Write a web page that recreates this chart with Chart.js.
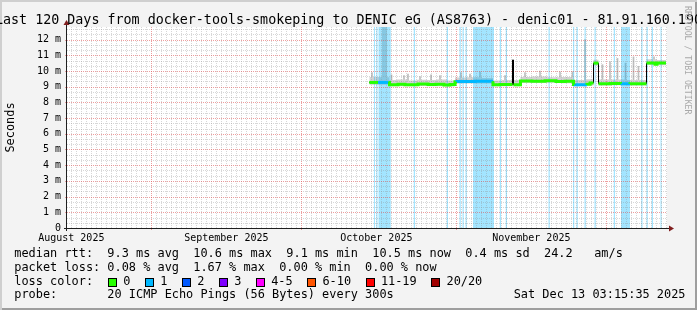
<!DOCTYPE html>
<html>
<head>
<meta charset="utf-8">
<script src="https://cdn.jsdelivr.net/npm/chart.js@4.4.1/dist/chart.umd.min.js"></script>
<style>
  html, body { margin: 0; padding: 0; background: #f3f3f3; overflow: hidden; }
  #frame { position: relative; width: 697px; height: 310px; overflow: hidden; background: #f3f3f3;
           box-shadow: inset 2px 2px 0 #cfcfcf, inset -2px -2px 0 #9e9e9e; }
  canvas { position: absolute; left: 0; top: 0; }
  .txt { position: absolute; white-space: pre; font-family: "DejaVu Sans Mono", monospace; color: #000; line-height: 1; }
  #title { font-size: 13.35px; left: -5px; top: 12.7px; }
  .row { font-size: 11.9px; left: 0; height: 12px; width: 697px; }
  .tok { position: absolute; top: 0; }
  #mark { writing-mode: vertical-rl; font-size: 8.2px; color: #a8a8a8; left: 684px; top: 6px; }
  .box { display: inline-block; width: 7px; height: 7px; border: 1px solid #000; vertical-align: top; margin: 2.7px 6px 0 0; }
  .lbl { margin-right: 14.8px; }
</style>
</head>
<body>
<div id="frame">
  <canvas id="chart" width="697" height="310"></canvas>
  <div id="title" class="txt">Last 120 Days from docker-tools-smokeping to DENIC eG (AS8763) - denic01 - 81.91.160.190</div>
  <div id="mark" class="txt">RRDTOOL / TOBI OETIKER</div>
  <div id="legend"></div>
</div>
<script>
// time axis: days since the graph start (Aug 15 03:15:35), 120 days wide
const monthLabels = ['August 2025', 'September 2025', 'October 2025', 'November 2025'];
const monthLabelDays = [0.864, 31.864, 61.864, 92.864];
const monthStartDays = [16.864, 46.864, 77.864, 107.864];
const firstMidnight = 0.864;
const yTicks = [0, 1, 2, 3, 4, 5, 6, 7, 8, 9, 10, 11, 12];
const yMax = 12.8;

// median rtt (ms); each value holds until the next day entry
const medDays = [60.46, 62.2, 64.3, 64.5, 66.2, 67.6, 70.2, 72.2, 73.8, 75.4, 76.6, 77.6, 78.0, 81.6, 85.2, 86.6,
                 89.1, 89.3, 90.7, 93.0, 95.6, 97.8, 99.6, 101.3, 101.7, 104.0, 104.6, 105.3, 106.3, 108.6, 111.0,
                 112.6, 115.9, 117.6, 118.0, 119.8];
const medMs = [9.27, 9.27, 9.27, 9.13, 9.16, 9.13, 9.17, 9.14, 9.16, 9.11, 9.14, 9.32, 9.33, 9.34, 9.12, 9.14,
               10.7, 9.13, 9.36, 9.34, 9.37, 9.33, 9.35, 9.14, 9.13, 9.15, 9.24, 10.5, 9.19, 9.2, 9.18,
               9.19, 10.5, 10.42, 10.5, 10.5];
// lost pings (of 20) for each stretch; null = no coloured line
const medLoss = [0, 1, 0, 0, 0, 0, 0, 0, 0, 0, 0, 0, 1, 1, 0, 0,
                 null, 0, 0, 0, 0, 0, 0, 0, 1, 0, 0, 0, 0, 0, 1,
                 0, 0, 0, 0, 0];

// smoke band (ms)
const smokeDays = [60.46, 62.6, 63.0, 64.0, 64.5, 66.0, 68.0, 70.0, 72.0, 74.0, 76.0, 77.6, 80.0, 83.0, 85.2,
                   87.0, 89.3, 90.7, 93.0, 96.0, 99.0, 101.3, 104.0, 105.3, 106.3, 109.0, 112.0, 115.9, 118.0, 119.8];
const smokeLo = [9.12, 9.12, 9.12, 9.12, 9.02, 9.03, 9.02, 9.04, 9.03, 9.02, 9.01, 9.2, 9.2, 9.2, 9.02,
                 9.03, 9.03, 9.24, 9.23, 9.25, 9.22, 9.03, 9.08, 10.35, 9.08, 9.09, 9.08, 10.38, 10.36, 10.36];
const smokeHi = [9.62, 9.6, 12.8, 9.6, 9.42, 9.45, 9.4, 9.44, 9.42, 9.45, 9.4, 9.58, 9.6, 9.56, 9.4,
                 9.42, 9.42, 9.62, 9.64, 9.6, 9.62, 9.42, 9.48, 10.72, 9.45, 9.46, 9.43, 10.74, 10.7, 10.7];

// single smoke spikes (ms)
const spikeDays = [61.0, 64.9, 67.4, 68.2, 70.6, 72.8, 74.6, 78.8, 80.6, 82.6, 87.6, 91.6, 94.6, 98.6, 101.1,
                   103.6, 107.1, 108.6, 110.1, 111.7, 113.3, 114.3, 117.4];
const spikeLo = [9.5, 9.35, 9.3, 9.3, 9.3, 9.3, 9.3, 9.5, 9.5, 9.5, 9.3, 9.5, 9.5, 9.5, 9.5,
                 9.3, 9.4, 9.4, 9.4, 9.4, 9.4, 9.4, 10.6];
const spikeHi = [9.9, 9.75, 9.7, 9.8, 9.65, 9.75, 9.7, 9.9, 9.8, 9.95, 9.7, 9.9, 10.0, 9.95, 9.95,
                 12.0, 10.4, 10.6, 10.8, 10.5, 10.9, 10.3, 10.9];

// packet loss stretches (days)
const lossStart = [61.35, 61.85, 62.3, 69.35, 75.95, 78.5, 79.1, 79.7, 81.2, 86.55, 87.75, 96.3, 101.2, 101.9,
                   103.5, 105.5, 109.35, 110.8, 114.85, 115.9, 116.95, 118.7];
const lossEnd = [61.6, 62.1, 64.75, 69.6, 76.2, 78.75, 79.35, 79.95, 85.4, 86.8, 88.0, 96.55, 101.45, 102.15,
                 103.75, 105.75, 109.6, 112.6, 115.1, 116.15, 117.2, 118.95];

const lossColors = ['#26ff00', '#00b8ff', '#0059ff', '#7e00ff', '#ff00ff', '#ff5500', '#ff0000', '#a10000'];
const lossLabels = ['0', '1', '2', '3', '4-5', '6-10', '11-19', '20/20'];

// ---- legend text under the graph
const rows = [
  { top: 248.2, tokens: [[14.3, 'median rtt:  9.3 ms avg  10.6 ms max  9.1 ms min  10.5 ms now  0.4 ms sd  24.2   am/s']] },
  { top: 261.9, tokens: [[14.3, 'packet loss: 0.08 % avg  1.67 % max  0.00 % min  0.00 % now']] },
  { top: 275.6, tokens: [[14.3, 'loss color:']] },
  { top: 288.9, tokens: [[14.3, 'probe:       20 ICMP Echo Pings (56 Bytes) every 300s'],
                         [513.7, 'Sat Dec 13 03:15:35 2025']] }
];
const legend = document.getElementById('legend');
rows.forEach((r, ri) => {
  const row = document.createElement('div');
  row.className = 'txt row';
  row.style.top = r.top + 'px';
  r.tokens.forEach(([x, t]) => {
    const s = document.createElement('span');
    s.className = 'tok';
    s.style.left = x + 'px';
    s.textContent = t;
    row.appendChild(s);
  });
  if (ri === 2) {
    const s = document.createElement('span');
    s.className = 'tok';
    s.style.left = '108.3px';
    lossColors.forEach((c, i) => {
      const b = document.createElement('span');
      b.className = 'box';
      b.style.background = c;
      const l = document.createElement('span');
      l.className = 'lbl';
      l.textContent = lossLabels[i];
      s.appendChild(b);
      s.appendChild(l);
    });
    row.appendChild(s);
  }
  legend.appendChild(row);
});

// ---- chart data built from the arrays
const medPts = medDays.map((d, i) => ({ x: d, y: medMs[i] }));
const coloredPts = [];
for (let k = 0; k < medDays.length - 1; k++) {
  coloredPts.push({ x: medDays[k], y: medMs[k] }, { x: medDays[k + 1], y: medMs[k] });
}
const lossColorOf = n => (n === null ? 'transparent' : lossColors[n]);
function segColor(ctx) {
  const i = ctx.p0DataIndex;
  const k = Math.floor(i / 2);
  if (i % 2 === 0) return lossColorOf(medLoss[k]);
  if (Math.abs(medMs[k + 1] - medMs[k]) > 0.5) return 'transparent';
  return lossColorOf(medLoss[k + 1]);
}
const smokeHiPts = smokeDays.map((d, i) => ({ x: d, y: smokeHi[i] }));
const smokeLoPts = smokeDays.map((d, i) => ({ x: d, y: smokeLo[i] }));
const spikePts = spikeDays.map((d, i) => ({ x: d, y: [spikeLo[i], spikeHi[i]] }));
const lossPts = [];
lossStart.forEach((s, i) => lossPts.push({ x: s, y: yMax }, { x: lossEnd[i], y: 0 }));

const tickFont = { family: 'DejaVu Sans Mono', size: 10 };
const titleFont = { family: 'DejaVu Sans Mono', size: 11.9 };

// rrdtool look: white canvas, dotted grid, axes with arrows
const rrdFrame = {
  id: 'rrdFrame',
  beforeDraw(chart) {
    const { ctx, chartArea: a } = chart;
    ctx.save();
    ctx.fillStyle = '#ffffff';
    ctx.fillRect(a.left, a.top, a.right - a.left, a.bottom - a.top);
    ctx.restore();
  },
  afterDatasetDraw(chart, args) {
    if (chart.data.datasets[args.index].label !== 'loss') return;
    const { ctx, chartArea: a, scales: { x, y } } = chart;
    ctx.save();
    ctx.lineWidth = 1;
    ctx.setLineDash([1, 1]);
    ctx.strokeStyle = 'rgba(143,143,143,0.36)';
    ctx.beginPath();
    for (let d = firstMidnight; d < 120; d += 1) {
      if (monthStartDays.some(m => Math.abs(m - d) < 0.01)) continue;
      const px = Math.round(x.getPixelForValue(d)) + 0.5;
      ctx.moveTo(px, a.top); ctx.lineTo(px, a.bottom);
    }
    for (let k = 1; k / 3 < yMax; k++) {
      if (k % 3 === 0) continue;
      const py = Math.round(y.getPixelForValue(k / 3)) + 0.5;
      ctx.moveTo(a.left, py); ctx.lineTo(a.right, py);
    }
    ctx.stroke();
    ctx.strokeStyle = 'rgba(222,80,80,0.55)';
    ctx.beginPath();
    monthStartDays.forEach(d => {
      const px = Math.round(x.getPixelForValue(d)) + 0.5;
      ctx.moveTo(px, a.top); ctx.lineTo(px, a.bottom + 3);
    });
    yTicks.slice(1).forEach(v => {
      const py = Math.round(y.getPixelForValue(v)) + 0.5;
      ctx.moveTo(a.left - 2, py); ctx.lineTo(a.right, py);
    });
    ctx.stroke();
    ctx.restore();
  },
  afterDraw(chart) {
    const { ctx, chartArea: a } = chart;
    const ax = a.left - 0.5, ay = a.bottom + 0.5;
    ctx.save();
    ctx.strokeStyle = '#1f1f1f';
    ctx.lineWidth = 1;
    ctx.beginPath();
    ctx.moveTo(a.left - 3, ay); ctx.lineTo(a.right + 3, ay);
    ctx.moveTo(ax, a.bottom + 3); ctx.lineTo(ax, a.top - 3);
    ctx.stroke();
    ctx.fillStyle = '#801f1f';
    ctx.beginPath();
    ctx.moveTo(a.right + 7, ay); ctx.lineTo(a.right + 2, ay - 3); ctx.lineTo(a.right + 2, ay + 3);
    ctx.closePath(); ctx.fill();
    ctx.beginPath();
    ctx.moveTo(ax, a.top - 7); ctx.lineTo(ax - 3, a.top - 2); ctx.lineTo(ax + 3, a.top - 2);
    ctx.closePath(); ctx.fill();
    ctx.restore();
  }
};

new Chart(document.getElementById('chart'), {
  type: 'line',
  data: {
    datasets: [
      { label: 'median', data: coloredPts, borderWidth: 3, borderCapStyle: 'butt', fill: false, order: 1,
        borderColor: '#26ff00', segment: { borderColor: segColor } },
      { label: 'median line', data: medPts, stepped: true, borderColor: '#000', borderWidth: 1, fill: false, order: 2 },
      { type: 'bar', label: 'spikes', data: spikePts, backgroundColor: '#bdbdbd', barThickness: 1, order: 7 },
      { label: 'smoke', data: smokeHiPts, stepped: true, borderWidth: 0, borderColor: 'transparent',
        backgroundColor: '#d2d2d2', fill: '+1', order: 6 },
      { label: 'smoke low', data: smokeLoPts, stepped: true, borderWidth: 0, borderColor: 'transparent',
        fill: false, order: 6 },
      { label: 'loss', data: lossPts, stepped: true, borderWidth: 0, borderColor: 'transparent',
        backgroundColor: 'rgba(0,184,255,0.36)', fill: 'origin', order: 5 }
    ]
  },
  options: {
    responsive: false,
    animation: false,
    events: [],
    layout: { padding: { top: 27, left: 0, right: 30, bottom: 62 } },
    elements: { point: { radius: 0 }, line: { tension: 0 } },
    plugins: { legend: { display: false }, tooltip: { enabled: false } },
    scales: {
      x: {
        type: 'linear', min: 0, max: 120, offset: false,
        grid: { display: false, drawTicks: false, offset: false }, border: { display: false },
        afterBuildTicks: s => { s.ticks = monthLabelDays.map(v => ({ value: v })); },
        afterFit: s => { s.height = 20; },
        ticks: { padding: 4, autoSkip: false, maxRotation: 0, color: '#000', font: tickFont,
                 callback: (v, i) => monthLabels[i] }
      },
      y: {
        type: 'linear', min: 0, max: yMax,
        grid: { display: false, drawTicks: false }, border: { display: false },
        afterBuildTicks: s => { s.ticks = yTicks.map(v => ({ value: v })); },
        afterFit: s => { s.width = 67; },
        ticks: { padding: 6, color: '#000', font: tickFont, callback: v => (v === 0 ? '0' : v + ' m') },
        title: { display: true, text: 'Seconds', color: '#000', font: titleFont, padding: { top: 4, bottom: 0 } }
      }
    }
  },
  plugins: [rrdFrame]
});
</script>
</body>
</html>
